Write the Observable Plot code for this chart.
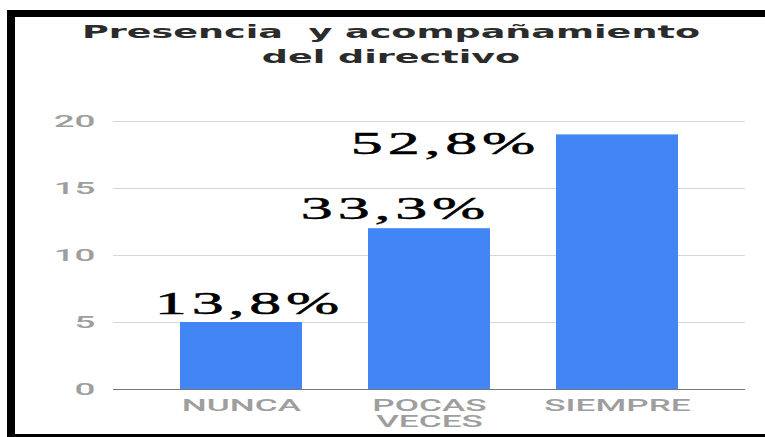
<!DOCTYPE html>
<html>
<head>
<meta charset="utf-8">
<script src="https://cdn.jsdelivr.net/npm/d3@7"></script>
<script src="https://cdn.jsdelivr.net/npm/@observablehq/plot@0.6"></script>
<style>
  html, body { margin: 0; padding: 0; background: #fff; overflow: hidden; width: 765px; height: 437px; }
  #frame { position: absolute; left: 7px; top: 10px; width: 900px; height: 417px;
           border-top: 7px solid #000; border-left: 8px solid #000; border-bottom: 7px solid #000; }
  #title { position: absolute; left: 0; top: 20px; width: 782px; text-align: center;
           font-family: "DejaVu Sans", sans-serif; font-weight: bold; font-size: 17px; line-height: 25px;
           color: #2b2b2b; transform: scaleX(2.15); transform-origin: 391px 50%; }
  #chart { position: absolute; left: 0; top: 80px; }
  g[aria-label="y-axis tick label"] text,
  g[aria-label="x-axis tick label"] text { fill: #9e9e9e; font-family: Roboto, sans-serif; font-weight: 500; font-size: 16px; }
  g[aria-label="text"] text { fill: #000; stroke: #000; stroke-width: 0.5px; font-family: "Liberation Serif", serif;
           font-size: 32px; letter-spacing: 2.4px; }
</style>
</head>
<body>
<div id="frame"></div>
<div id="title">Presencia&nbsp; y acompañamiento<br>del directivo</div>
<div id="chart"></div>
<script>
const categories = ["NUNCA", "POCAS VECES", "SIEMPRE"];
const counts = [5, 12, 19];
const percentLabels = ["13,8%", "33,3%", "52,8%"];
const yTicks = [0, 5, 10, 15, 20];

const data = categories.map((c, i) => ({cat: c, count: counts[i], label: percentLabels[i]}));

const labelMark = (i, dx, dy) => Plot.text([data[i]], {
  x: "cat", y: "count", text: "label", dx, dy, lineAnchor: "bottom", textAnchor: "middle"
});

const chart = Plot.plot({
  width: 765,
  height: 354,
  marginTop: 41,
  marginBottom: 45,
  marginLeft: 113,
  marginRight: 20,
  x: {domain: categories, paddingInner: 0.35, paddingOuter: 0.35, label: null},
  y: {domain: [0, 20], label: null},
  marks: [
    Plot.gridY(yTicks, {stroke: "#d6d6d6", strokeOpacity: 1}),
    Plot.barY(data, {x: "cat", y: "count", fill: "#4285f4"}),
    Plot.ruleY([0], {stroke: "#777"}),
    Plot.axisY(yTicks, {tickSize: 0, tickPadding: 18, label: null}),
    Plot.axisX({tickSize: 0, tickPadding: 10, label: null, lineHeight: 1.0,
                tickFormat: d => d.replace(" ", "\n")}),
    labelMark(0, 8, -9),
    labelMark(1, -34, -10),
    labelMark(2, -172, 19)
  ]
});
document.getElementById("chart").appendChild(chart);

// horizontal stretch of the texts, as in the reference
function stretch(selector, s) {
  d3.select(chart).selectAll(selector).each(function () {
    let t = this.getAttribute("transform");
    if (!t) {
      const x = +this.getAttribute("x") || 0, y = +this.getAttribute("y") || 0;
      this.removeAttribute("x"); this.removeAttribute("y");
      t = `translate(${x},${y})`;
    }
    this.setAttribute("transform", `${t} scale(${s},1)`);
  });
}
stretch('g[aria-label="y-axis tick label"] text', 2.3);
stretch('g[aria-label="x-axis tick label"] text', 2.2);
stretch('g[aria-label="text"] text', 2.0);
</script>
</body>
</html>
